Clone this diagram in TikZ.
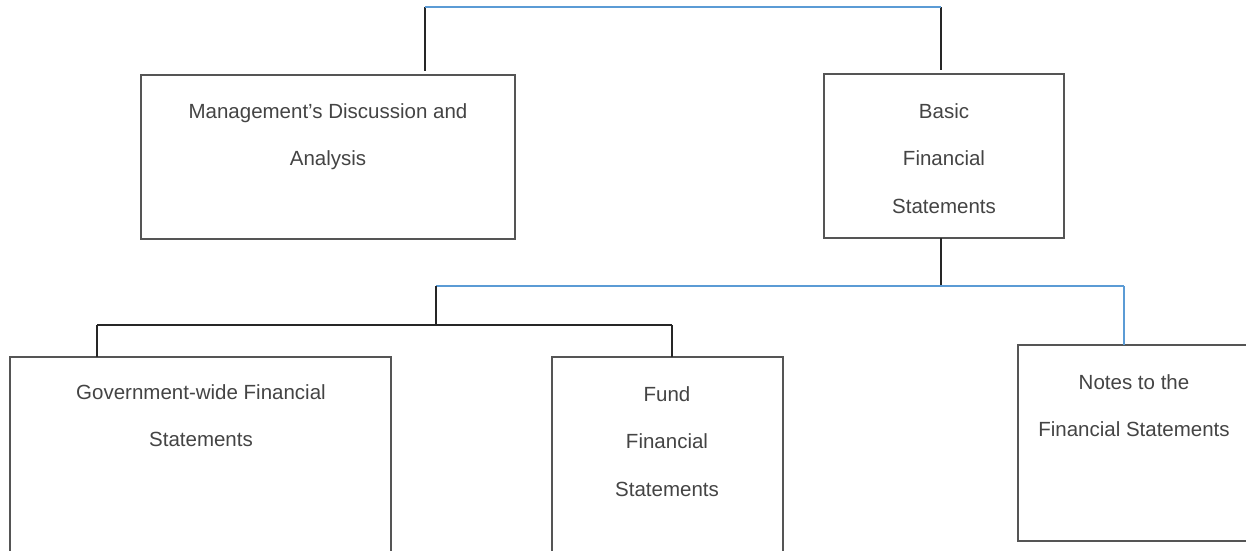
\documentclass[tikz,border=0pt]{standalone}
\usepackage{fontspec}
\setmainfont{Liberation Sans}
\definecolor{boxgray}{HTML}{555555}
\definecolor{txtgray}{HTML}{444444}
\definecolor{lnblue}{HTML}{5B9BD5}
\begin{document}
\begin{tikzpicture}[x=1pt,y=-1pt,
  box/.style={draw=boxgray,line width=1.8pt,rectangle,anchor=north west,inner sep=0pt,outer sep=0pt},
  lbl/.style={text=txtgray,font=\fontsize{20.5}{47.5}\selectfont,align=center,anchor=north,inner sep=0pt},
  blk/.style={draw=black!85,line width=1.4pt},
  bln/.style={draw=lnblue,line width=1.4pt}]
\useasboundingbox (0,0) rectangle (1246,550);
\clip (0,0) rectangle (1246,550);
\fill[white] (0,0) rectangle (1246,550);
% boxes
\node[box,minimum width=374pt,minimum height=164pt] (mda) at (141,75) {};
\node[box,minimum width=240pt,minimum height=164pt] (bfs) at (824,74) {};
\node[box,minimum width=381pt,minimum height=220pt] (gov) at (10,357) {};
\node[box,minimum width=231pt,minimum height=220pt] (fund) at (552,357) {};
\node[box,minimum width=260pt,minimum height=196pt] (notes) at (1018,345) {};
% labels
\node[lbl] (mdaT) at (328,103) {Management’s Discussion and\\Analysis};
\node[lbl] (bfsT) at (944,103) {Basic\\Financial\\Statements};
\node[lbl] (govT) at (201,384) {Government-wide Financial\\Statements};
\node[lbl] (fundT) at (667,386) {Fund\\Financial\\Statements};
\node[lbl] (notesT) at (1134,374) {Notes to the\\Financial Statements};
% top connector
\coordinate (j1) at (425,7);
\coordinate (j2) at (941,7);
\draw[blk] (j1) -- ([yshift=4pt]j1 |- mda.north);
\draw[blk] (j2) -- ([yshift=4pt]j2 |- bfs.north);
\draw[bln] (j1) -- (j2);
% second level
\coordinate (k0) at (941,286);
\coordinate (k1) at (436,286);
\coordinate (k2) at (1124,286);
\draw[blk] (bfs.south -| k0) -- (k0);
\draw[bln] (k1) -- (k2);
\draw[bln] (k2) -- (k2 |- notes.north);
\coordinate (m1) at (436,325);
\coordinate (m2) at (97,325);
\coordinate (m3) at (672,325);
\draw[blk] (k1) -- (m1);
\draw[blk] (m2) -- (m3);
\draw[blk] (m2) -- (m2 |- gov.north);
\draw[blk] (m3) -- (m3 |- fund.north);
\end{tikzpicture}
\end{document}
